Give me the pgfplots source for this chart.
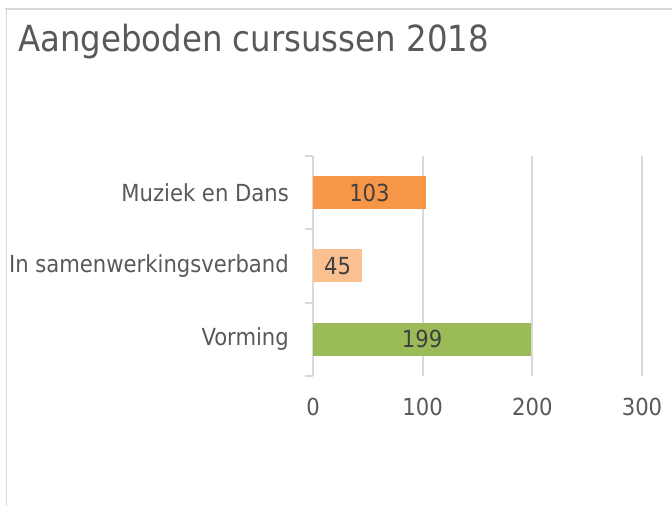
\documentclass[border=0pt]{standalone}
\usepackage{fontspec}
\setmainfont{DejaVu Sans Condensed}
\usepackage{pgfplots}
\pgfplotsset{compat=1.18}
\definecolor{cMuz}{HTML}{F79646}
\definecolor{cSam}{HTML}{FAC090}
\definecolor{cVor}{HTML}{9BBB59}
\definecolor{axgray}{HTML}{D9D9D9}
\definecolor{txgray}{HTML}{595959}
\definecolor{lbgray}{HTML}{404040}
\begin{document}
\begin{tikzpicture}
\useasboundingbox (0,0) rectangle (672bp,506bp);
\draw[axgray, line width=1.5bp] (5bp,497bp) -- (672bp,497bp);
\draw[axgray, line width=1.5bp] (6.5bp,497bp) -- (6.5bp,0bp);
\node[anchor=base west, inner sep=0pt, text=txgray, font=\fontsize{36bp}{43bp}\selectfont] at (18bp,454bp) {Aangeboden cursussen 2018};
\begin{axis}[
  at={(313bp,130bp)}, anchor=south west,
  scale only axis, width=329bp, height=220bp,
  xmin=0, xmax=300, ymin=-0.5, ymax=2.5,
  xtick={0,100,200,300},
  ytick={0,1,2},
  minor ytick={-0.5,0.5,1.5,2.5},
  yticklabels={Vorming, In samenwerkingsverband, Muziek en Dans},
  axis y line*=left, axis x line*=bottom,
  x axis line style={draw=none},
  y axis line style={draw=axgray, line width=2bp},
  xmajorgrids, grid style={draw=axgray, line width=2bp},
  major tick length=0pt,
  minor tick length=8bp,
  tick align=outside,
  tick style={draw=axgray, line width=2bp},
  /pgf/number format/assume math mode=true,
  ticklabel style={font=\fontsize{23.5bp}{28bp}\selectfont, text=txgray},
  xticklabel style={anchor=north, yshift=-19bp},
  yticklabel style={anchor=east, inner sep=0pt, xshift=-24bp},
  xbar, bar width=0.45, bar shift=0pt,
  clip=false,
]
\addplot[fill=cMuz, draw=none] coordinates {(103,2)};
\addplot[fill=cSam, draw=none] coordinates {(45,1)};
\addplot[fill=cVor, draw=none] coordinates {(199,0)};
\addplot[xbar=0pt, draw=none, fill=none, mark=none, only marks,
  point meta=explicit,
  nodes near coords,
  every node near coord/.style={anchor=center, text=lbgray, font=\fontsize{23.5bp}{28bp}\selectfont}]
  table[x=h, y=y, meta=v] {
  h y v
  51.5 2 103
  22.5 1 45
  99.5 0 199
};
\end{axis}
\end{tikzpicture}
\end{document}
